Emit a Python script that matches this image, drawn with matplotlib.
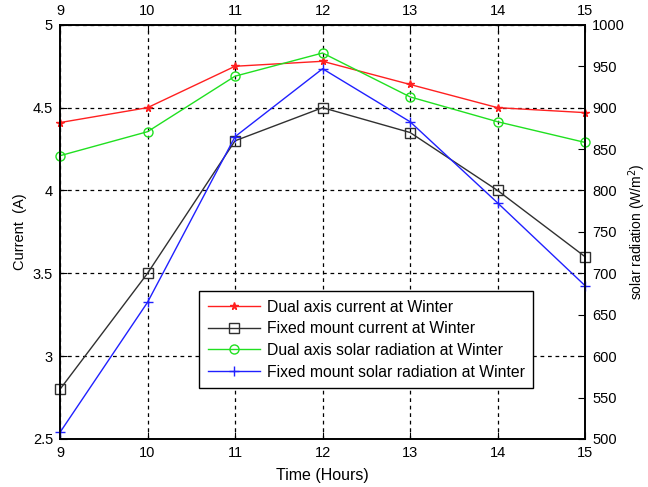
import numpy as np
import matplotlib.pyplot as plt

plt.rcParams['font.family'] = ['Liberation Sans', 'DejaVu Sans']
plt.rcParams['font.size'] = 10.5

hours = [9, 10, 11, 12, 13, 14, 15]
# current, A
dual_current = [4.41, 4.5, 4.75, 4.78, 4.64, 4.5, 4.47]
fixed_current = [2.8, 3.5, 4.3, 4.5, 4.35, 4.0, 3.6]
# solar radiation, W/m2
dual_rad = [842, 871, 938, 966, 913, 883, 858]
fixed_rad = [508, 665, 865, 947, 883, 785, 685]

fig = plt.figure(figsize=(6.48, 4.87), dpi=100)
ax1 = fig.add_axes([0.0926, 0.0986, 0.8104, 0.8504])
ax2 = ax1.twinx()

l1, = ax1.plot(hours, dual_current, '-*', color='#ff2020', ms=5.5, lw=1,
               label='Dual axis current at Winter', clip_on=False)
l2, = ax1.plot(hours, fixed_current, '-s', color='#303030', mfc='none', ms=6.5, lw=1,
               label='Fixed mount current at Winter', clip_on=False)
l3, = ax2.plot(hours, dual_rad, '-o', color='#20e020', mfc='none', ms=6.5, lw=1,
               label='Dual axis solar radiation at Winter', clip_on=False)
l4, = ax2.plot(hours, fixed_rad, '-+', color='#2020ff', ms=6.5, lw=1,
               label='Fixed mount solar radiation at Winter', clip_on=False)

ax1.set_xlim(9, 15)
ax1.set_ylim(2.5, 5)
ax2.set_ylim(500, 1000)
ax1.set_xticks(hours)
ax1.set_yticks(np.arange(2.5, 5.01, 0.5))
ax1.set_yticklabels(['2.5', '3', '3.5', '4', '4.5', '5'])
ax2.set_yticks(np.arange(500, 1001, 50))

ax1.grid(True, color='black', linestyle=(0, (3, 3)), lw=0.9)
ax1.tick_params(direction='in', top=True, labeltop=True, length=5, pad=5)
ax2.tick_params(direction='in', length=5, pad=5)
for ax in (ax1, ax2):
    for s in ax.spines.values():
        s.set_linewidth(1.2)

ax1.set_xlabel('Time (Hours)', fontsize=11.5, labelpad=6)
ax1.set_ylabel('Current  (A)', fontsize=10.5)
ax2.set_ylabel('solar radiation (W/m$^2$)', fontsize=10, labelpad=1)

leg = ax2.legend(handles=[l1, l2, l3, l4], loc='upper left',
                 bbox_to_anchor=(0.265, 0.357), borderaxespad=0,
                 fancybox=False, framealpha=1, edgecolor='black', fontsize=11.3,
                 borderpad=0.55, labelspacing=0.42, handlelength=3.3,
                 handletextpad=0.45)
leg.get_frame().set_linewidth(1)

fig.savefig('out.png', dpi=100)
